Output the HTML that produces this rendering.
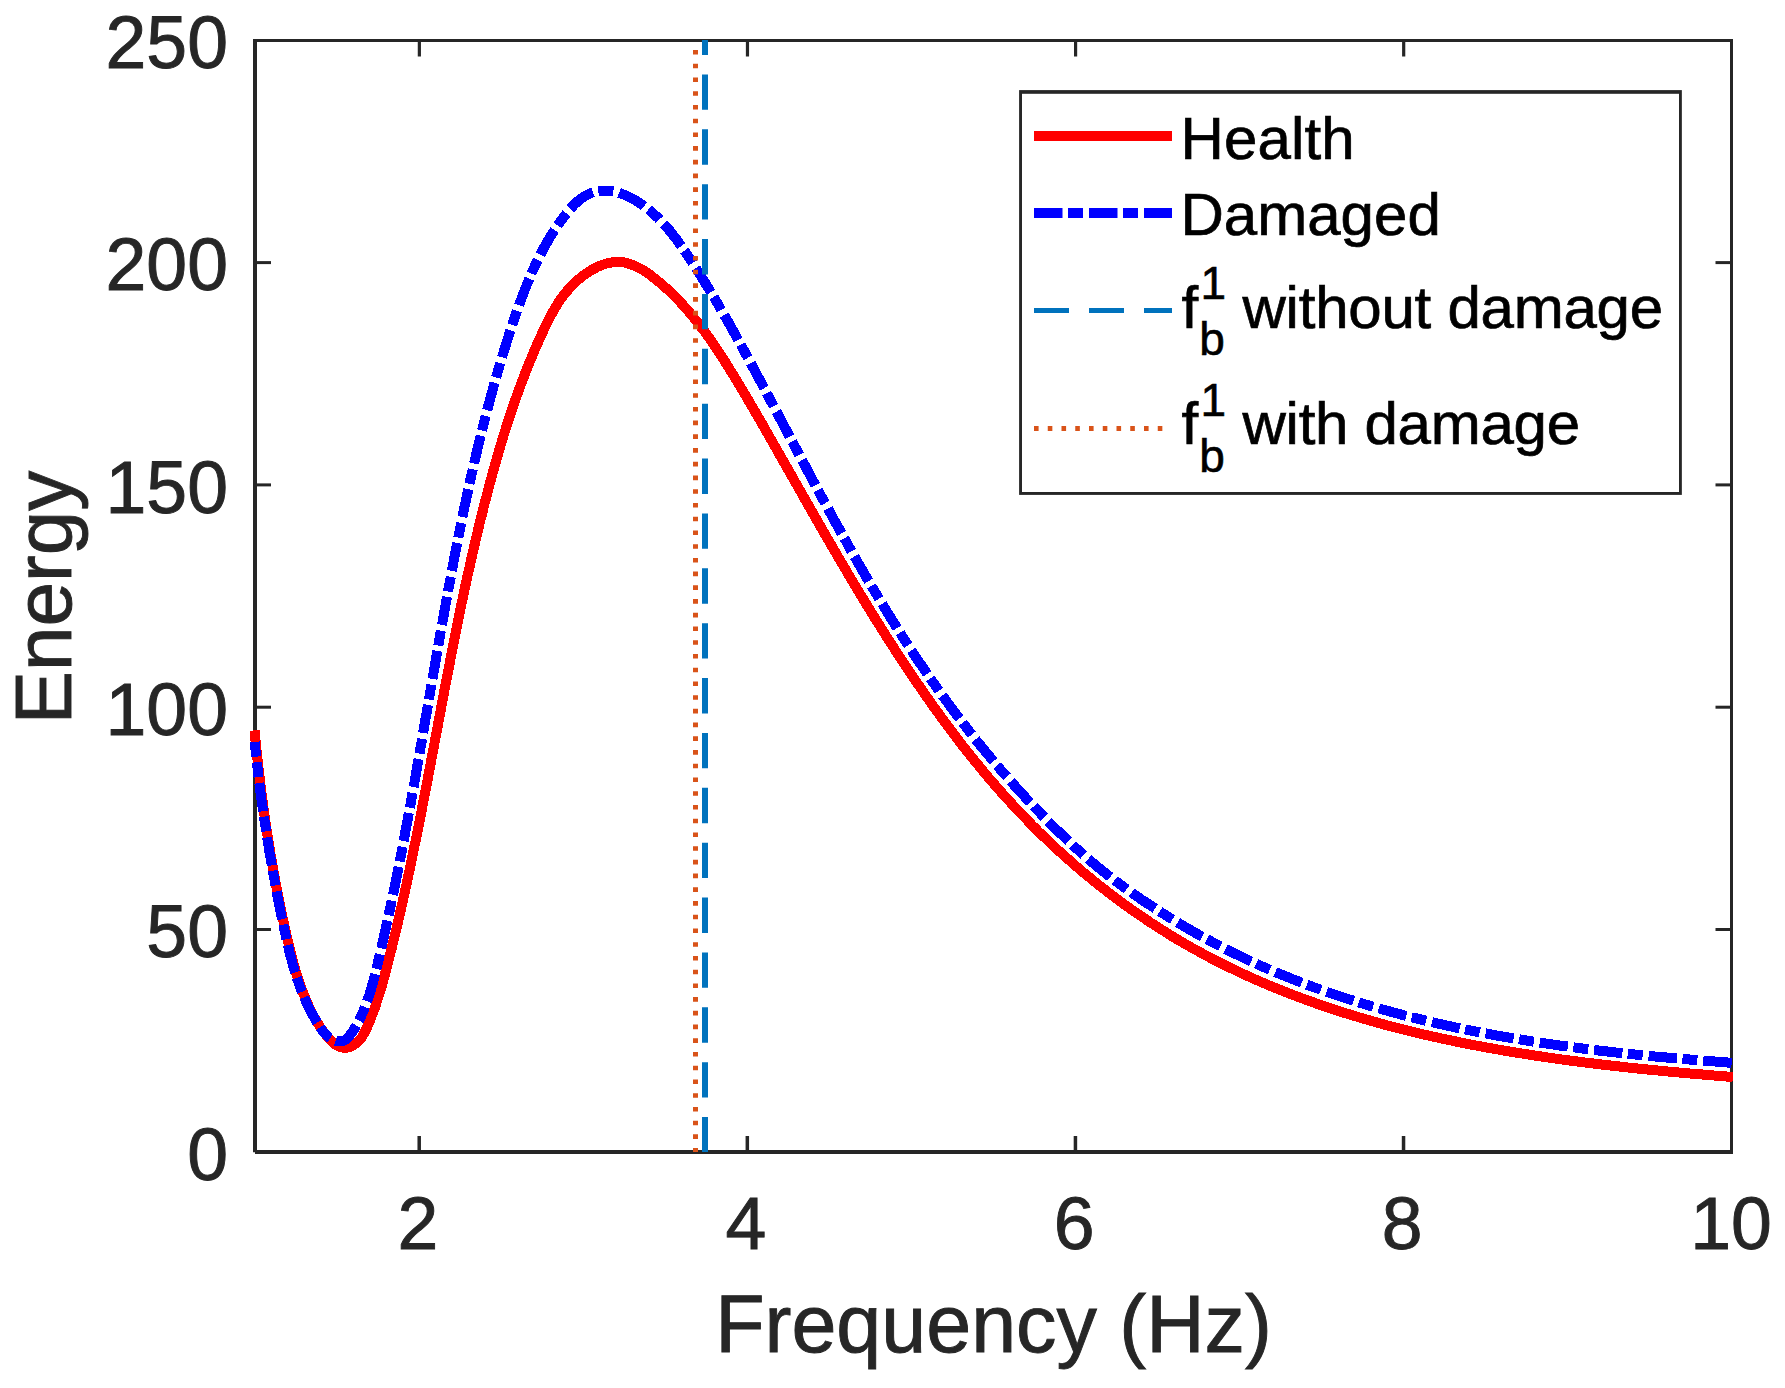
<!DOCTYPE html>
<html><head><meta charset="utf-8"><title>Energy vs Frequency</title>
<style>
html,body{margin:0;padding:0;background:#fff;}
body{width:1785px;height:1388px;overflow:hidden;}
svg{display:block;}
text{font-family:"Liberation Sans",sans-serif;}
.tk{font-size:73.4px;fill:#262626;stroke:#262626;stroke-width:0.9px;}
.lb{font-size:80.8px;fill:#262626;stroke:#262626;stroke-width:0.9px;}
.lg{font-size:60px;fill:#000;stroke:#000;stroke-width:0.7px;}
.ss{font-size:46px;fill:#000;stroke:#000;stroke-width:0.6px;}
</style></head><body>
<svg width="1785" height="1388" viewBox="0 0 1785 1388">
<rect x="0" y="0" width="1785" height="1388" fill="#fff"/>
<g stroke="#262626" fill="none" stroke-linecap="butt">
<path d="M255.0 39.0 V1152.2" stroke-width="4"/>
<path d="M255.0 1152.0 H1733.0" stroke-width="4"/>
<path d="M253.0 40.5 H1733.0" stroke-width="3"/>
<path d="M1731.5 39.0 V1154.0" stroke-width="3"/>
<path d="M419.21 1152.0 V1136.0" stroke-width="3.5"/>
<path d="M419.36 40.5 V56.5" stroke-width="3.2"/>
<path d="M747.32 1152.0 V1136.0" stroke-width="3.5"/>
<path d="M747.47 40.5 V56.5" stroke-width="3.2"/>
<path d="M1075.43 1152.0 V1136.0" stroke-width="3.5"/>
<path d="M1075.58 40.5 V56.5" stroke-width="3.2"/>
<path d="M1403.54 1152.0 V1136.0" stroke-width="3.5"/>
<path d="M1403.69 40.5 V56.5" stroke-width="3.2"/>
<path d="M255.0 929.5 H271.0" stroke-width="3"/>
<path d="M1731.5 929.5 H1715.5" stroke-width="3"/>
<path d="M255.0 707.2 H271.0" stroke-width="3"/>
<path d="M1731.5 707.2 H1715.5" stroke-width="3"/>
<path d="M255.0 484.9 H271.0" stroke-width="3"/>
<path d="M1731.5 484.9 H1715.5" stroke-width="3"/>
<path d="M255.0 262.6 H271.0" stroke-width="3"/>
<path d="M1731.5 262.6 H1715.5" stroke-width="3"/>
</g>
<text class="tk" x="417.9" y="1249.4" text-anchor="middle">2</text>
<text class="tk" x="746.0" y="1249.4" text-anchor="middle">4</text>
<text class="tk" x="1074.1" y="1249.4" text-anchor="middle">6</text>
<text class="tk" x="1402.2" y="1249.4" text-anchor="middle">8</text>
<text class="tk" x="1731.1" y="1249.4" text-anchor="middle">10</text>
<text class="tk" x="228" y="1179.5" text-anchor="end">0</text>
<text class="tk" x="228" y="957.2" text-anchor="end">50</text>
<text class="tk" x="228" y="734.9" text-anchor="end">100</text>
<text class="tk" x="228" y="512.6" text-anchor="end">150</text>
<text class="tk" x="228" y="290.3" text-anchor="end">200</text>
<text class="tk" x="228" y="68.0" text-anchor="end">250</text>
<text class="lb" x="993.5" y="1351.5" text-anchor="middle">Frequency (Hz)</text>
<text class="lb" style="font-size:80px" transform="translate(70.6 597.6) rotate(-90)" text-anchor="middle">Energy</text>
<path d="M254.6 730.4 L255.0 734.9 L255.4 739.3 L255.9 743.8 L256.3 748.2 L256.8 752.6 L257.3 757.1 L257.7 761.5 L258.2 765.9 L258.7 770.4 L259.3 774.8 L259.8 779.2 L260.3 783.6 L260.9 788.0 L261.4 792.4 L262.0 796.9 L262.6 801.3 L263.2 805.7 L263.8 810.1 L264.4 814.5 L265.0 818.9 L265.7 823.3 L266.3 827.7 L267.0 832.1 L267.7 836.4 L268.4 840.8 L269.1 845.2 L269.8 849.6 L270.5 854.0 L271.3 858.4 L272.0 862.8 L272.8 867.1 L273.6 871.5 L274.4 875.9 L275.2 880.3 L276.0 884.7 L276.9 889.1 L277.7 893.4 L278.6 897.8 L279.4 902.2 L280.3 906.6 L281.2 910.9 L282.1 915.3 L283.1 919.7 L284.0 924.1 L285.0 928.5 L285.9 932.8 L286.9 937.2 L288.0 941.6 L289.0 946.0 L290.1 950.3 L291.2 954.7 L292.3 959.0 L293.5 963.3 L294.7 967.6 L295.9 971.9 L297.3 976.1 L298.6 980.3 L300.1 984.5 L301.5 988.7 L303.1 992.8 L304.7 996.9 L306.4 1001.0 L308.2 1005.0 L310.0 1009.0 L312.0 1012.9 L314.0 1016.8 L316.2 1020.6 L318.5 1024.4 L320.9 1028.2 L323.6 1031.8 L326.4 1035.5 L329.5 1039.1 L332.8 1042.4 L336.3 1045.2 L340.1 1047.1 L344.2 1047.9 L348.5 1047.4 L352.7 1045.7 L356.3 1043.3 L359.4 1040.3 L362.1 1036.8 L364.3 1033.0 L366.4 1028.9 L368.2 1024.8 L370.0 1020.6 L371.6 1016.3 L373.2 1012.1 L374.8 1007.9 L376.2 1003.6 L377.6 999.4 L379.0 995.1 L380.3 990.8 L381.6 986.6 L382.8 982.3 L384.0 978.0 L385.1 973.7 L386.3 969.4 L387.4 965.1 L388.5 960.8 L389.6 956.4 L390.7 952.1 L391.8 947.8 L392.8 943.5 L393.9 939.2 L394.9 934.8 L396.0 930.5 L397.0 926.2 L398.0 921.9 L399.0 917.5 L400.0 913.2 L401.0 908.9 L402.0 904.5 L403.0 900.2 L403.9 895.8 L404.9 891.5 L405.9 887.1 L406.8 882.8 L407.7 878.5 L408.7 874.1 L409.6 869.7 L410.5 865.4 L411.4 861.0 L412.3 856.7 L413.2 852.3 L414.1 848.0 L415.0 843.6 L415.9 839.2 L416.8 834.9 L417.7 830.5 L418.5 826.1 L419.4 821.8 L420.3 817.4 L421.1 813.0 L422.0 808.7 L422.8 804.3 L423.7 799.9 L424.5 795.6 L425.4 791.2 L426.2 786.8 L427.1 782.4 L427.9 778.1 L428.7 773.7 L429.6 769.3 L430.4 764.9 L431.2 760.6 L432.0 756.2 L432.9 751.8 L433.7 747.4 L434.5 743.0 L435.3 738.7 L436.2 734.3 L437.0 729.9 L437.8 725.5 L438.6 721.1 L439.5 716.8 L440.3 712.4 L441.1 708.0 L441.9 703.6 L442.8 699.2 L443.6 694.9 L444.4 690.5 L445.3 686.1 L446.1 681.7 L446.9 677.3 L447.8 673.0 L448.6 668.6 L449.5 664.2 L450.3 659.8 L451.2 655.4 L452.0 651.1 L452.9 646.7 L453.7 642.3 L454.6 637.9 L455.5 633.6 L456.4 629.2 L457.2 624.8 L458.1 620.4 L459.0 616.1 L459.9 611.7 L460.8 607.3 L461.7 603.0 L462.7 598.6 L463.6 594.2 L464.5 589.9 L465.4 585.5 L466.4 581.2 L467.3 576.8 L468.3 572.4 L469.3 568.1 L470.2 563.7 L471.2 559.4 L472.2 555.0 L473.2 550.7 L474.2 546.3 L475.2 542.0 L476.2 537.6 L477.3 533.3 L478.3 528.9 L479.3 524.6 L480.4 520.2 L481.5 515.9 L482.6 511.6 L483.6 507.2 L484.7 502.9 L485.9 498.6 L487.0 494.3 L488.1 489.9 L489.3 485.6 L490.4 481.3 L491.6 477.0 L492.8 472.7 L494.0 468.4 L495.2 464.0 L496.4 459.8 L497.6 455.5 L498.9 451.2 L500.1 446.9 L501.4 442.6 L502.7 438.3 L504.0 434.1 L505.4 429.8 L506.7 425.6 L508.1 421.3 L509.5 417.1 L510.9 412.9 L512.3 408.7 L513.7 404.4 L515.2 400.2 L516.7 396.1 L518.2 391.9 L519.7 387.7 L521.2 383.5 L522.8 379.4 L524.4 375.3 L526.0 371.1 L527.6 367.0 L529.3 362.9 L531.0 358.8 L532.7 354.7 L534.4 350.7 L536.1 346.6 L537.9 342.6 L539.7 338.6 L541.5 334.6 L543.4 330.6 L545.2 326.6 L547.2 322.6 L549.1 318.7 L551.2 314.8 L553.3 311.0 L555.6 307.2 L557.9 303.4 L560.3 299.8 L562.9 296.2 L565.7 292.7 L568.6 289.2 L571.7 285.9 L574.9 282.6 L578.4 279.5 L582.1 276.5 L585.9 273.7 L589.8 271.1 L593.8 268.8 L597.9 266.7 L602.1 264.9 L606.3 263.6 L610.6 262.6 L614.8 262.0 L619.0 261.9 L623.1 262.3 L627.2 263.2 L631.2 264.4 L635.2 266.0 L639.1 267.9 L642.9 270.1 L646.7 272.5 L650.4 275.1 L654.0 277.9 L657.6 280.8 L661.1 283.7 L664.5 286.7 L667.9 289.8 L671.2 292.9 L674.4 296.1 L677.5 299.3 L680.6 302.5 L683.7 305.8 L686.6 309.2 L689.6 312.6 L692.4 316.0 L695.2 319.4 L698.0 322.9 L700.7 326.5 L703.4 330.0 L706.1 333.6 L708.7 337.2 L711.2 340.8 L713.7 344.5 L716.2 348.2 L718.7 351.9 L721.1 355.6 L723.5 359.4 L725.9 363.1 L728.3 366.9 L730.6 370.7 L733.0 374.5 L735.3 378.3 L737.6 382.1 L739.9 385.9 L742.2 389.8 L744.4 393.6 L746.7 397.4 L749.0 401.3 L751.2 405.1 L753.4 408.9 L755.7 412.8 L757.9 416.6 L760.2 420.5 L762.4 424.3 L764.6 428.2 L766.8 432.1 L769.0 435.9 L771.2 439.8 L773.4 443.7 L775.6 447.5 L777.8 451.4 L780.0 455.3 L782.2 459.1 L784.4 463.0 L786.6 466.9 L788.8 470.8 L791.0 474.6 L793.2 478.5 L795.4 482.4 L797.6 486.3 L799.8 490.1 L802.0 494.0 L804.2 497.9 L806.4 501.8 L808.6 505.6 L810.8 509.5 L813.0 513.4 L815.2 517.2 L817.4 521.1 L819.6 525.0 L821.9 528.8 L824.1 532.7 L826.3 536.6 L828.6 540.4 L830.8 544.3 L833.0 548.2 L835.3 552.0 L837.5 555.9 L839.8 559.7 L842.0 563.6 L844.3 567.4 L846.6 571.2 L848.8 575.1 L851.1 578.9 L853.4 582.7 L855.7 586.6 L858.0 590.4 L860.3 594.2 L862.6 598.0 L864.9 601.8 L867.2 605.6 L869.6 609.4 L871.9 613.2 L874.2 617.0 L876.6 620.8 L879.0 624.6 L881.3 628.4 L883.7 632.1 L886.1 635.9 L888.5 639.7 L890.9 643.4 L893.3 647.1 L895.7 650.9 L898.1 654.6 L900.6 658.3 L903.0 662.1 L905.5 665.8 L908.0 669.5 L910.4 673.2 L912.9 676.9 L915.4 680.6 L917.9 684.2 L920.5 687.9 L923.0 691.6 L925.5 695.2 L928.1 698.8 L930.7 702.5 L933.2 706.1 L935.8 709.7 L938.4 713.3 L941.0 716.9 L943.7 720.5 L946.3 724.1 L949.0 727.7 L951.6 731.2 L954.3 734.8 L957.0 738.3 L959.7 741.8 L962.4 745.4 L965.2 748.9 L967.9 752.4 L970.7 755.8 L973.5 759.3 L976.3 762.8 L979.1 766.2 L981.9 769.6 L984.8 773.1 L987.6 776.5 L990.5 779.9 L993.4 783.2 L996.3 786.6 L999.3 789.9 L1002.2 793.3 L1005.2 796.6 L1008.2 799.9 L1011.2 803.2 L1014.2 806.5 L1017.2 809.7 L1020.3 813.0 L1023.4 816.2 L1026.5 819.4 L1029.6 822.6 L1032.7 825.8 L1035.9 828.9 L1039.0 832.1 L1042.2 835.2 L1045.4 838.3 L1048.7 841.4 L1051.9 844.5 L1055.2 847.5 L1058.5 850.6 L1061.8 853.6 L1065.1 856.6 L1068.5 859.5 L1071.8 862.5 L1075.2 865.4 L1078.6 868.4 L1082.0 871.3 L1085.4 874.1 L1088.9 877.0 L1092.4 879.8 L1095.8 882.6 L1099.3 885.4 L1102.9 888.2 L1106.4 890.9 L1109.9 893.7 L1113.5 896.4 L1117.1 899.1 L1120.7 901.7 L1124.3 904.4 L1127.9 907.0 L1131.5 909.6 L1135.2 912.1 L1138.9 914.7 L1142.6 917.2 L1146.3 919.7 L1150.0 922.2 L1153.7 924.6 L1157.4 927.0 L1161.2 929.4 L1165.0 931.8 L1168.7 934.1 L1172.5 936.5 L1176.3 938.8 L1180.2 941.0 L1184.0 943.3 L1187.9 945.5 L1191.7 947.7 L1195.6 949.8 L1199.5 952.0 L1203.4 954.1 L1207.3 956.2 L1211.2 958.3 L1215.1 960.3 L1219.1 962.3 L1223.0 964.3 L1227.0 966.3 L1231.0 968.2 L1235.0 970.1 L1239.0 972.0 L1243.0 973.9 L1247.0 975.7 L1251.1 977.6 L1255.1 979.4 L1259.2 981.1 L1263.2 982.9 L1267.3 984.6 L1271.4 986.3 L1275.5 988.0 L1279.6 989.7 L1283.7 991.3 L1287.8 993.0 L1292.0 994.6 L1296.1 996.1 L1300.2 997.7 L1304.4 999.2 L1308.6 1000.8 L1312.8 1002.2 L1316.9 1003.7 L1321.1 1005.2 L1325.3 1006.6 L1329.5 1008.0 L1333.8 1009.4 L1338.0 1010.8 L1342.2 1012.2 L1346.5 1013.5 L1350.7 1014.8 L1355.0 1016.1 L1359.2 1017.4 L1363.5 1018.7 L1367.8 1019.9 L1372.1 1021.1 L1376.3 1022.3 L1380.6 1023.5 L1384.9 1024.7 L1389.2 1025.9 L1393.6 1027.0 L1397.9 1028.1 L1402.2 1029.2 L1406.5 1030.3 L1410.9 1031.4 L1415.2 1032.4 L1419.6 1033.5 L1423.9 1034.5 L1428.3 1035.5 L1432.6 1036.5 L1437.0 1037.5 L1441.4 1038.4 L1445.7 1039.4 L1450.1 1040.3 L1454.5 1041.2 L1458.9 1042.1 L1463.3 1043.0 L1467.7 1043.9 L1472.1 1044.8 L1476.5 1045.6 L1480.9 1046.4 L1485.3 1047.3 L1489.7 1048.1 L1494.1 1048.8 L1498.5 1049.6 L1502.9 1050.4 L1507.4 1051.1 L1511.8 1051.9 L1516.2 1052.6 L1520.6 1053.3 L1525.1 1054.0 L1529.5 1054.7 L1533.9 1055.4 L1538.4 1056.1 L1542.8 1056.7 L1547.2 1057.4 L1551.7 1058.0 L1556.1 1058.7 L1560.5 1059.3 L1565.0 1059.9 L1569.4 1060.5 L1573.9 1061.1 L1578.3 1061.6 L1582.7 1062.2 L1587.2 1062.8 L1591.6 1063.3 L1596.1 1063.8 L1600.5 1064.4 L1604.9 1064.9 L1609.4 1065.4 L1613.8 1065.9 L1618.3 1066.4 L1622.7 1066.9 L1627.1 1067.4 L1631.6 1067.9 L1636.0 1068.3 L1640.4 1068.8 L1644.9 1069.2 L1649.3 1069.7 L1653.7 1070.1 L1658.1 1070.5 L1662.5 1071.0 L1667.0 1071.4 L1671.4 1071.8 L1675.8 1072.2 L1680.2 1072.6 L1684.6 1073.0 L1689.0 1073.4 L1693.4 1073.8 L1697.8 1074.2 L1702.2 1074.5 L1706.6 1074.9 L1711.0 1075.3 L1715.3 1075.6 L1719.7 1076.0 L1724.1 1076.3 L1728.5 1076.7 L1732.8 1077.0" fill="none" stroke="#ff0000" stroke-width="10" stroke-linejoin="round" shape-rendering="crispEdges"/>
<path d="M254.7 742.0 L255.2 746.5 L255.6 751.1 L256.1 755.6 L256.6 760.2 L257.1 764.7 L257.7 769.3 L258.2 773.9 L258.8 778.4 L259.3 783.0 L259.9 787.5 L260.5 792.1 L261.1 796.7 L261.7 801.3 L262.4 805.8 L263.0 810.4 L263.7 815.0 L264.4 819.6 L265.1 824.1 L265.8 828.7 L266.5 833.3 L267.2 837.9 L267.9 842.4 L268.7 847.0 L269.4 851.6 L270.2 856.1 L271.0 860.7 L271.8 865.2 L272.6 869.8 L273.4 874.4 L274.3 878.9 L275.1 883.4 L276.0 888.0 L276.8 892.5 L277.7 897.1 L278.6 901.6 L279.5 906.1 L280.4 910.6 L281.3 915.1 L282.3 919.6 L283.2 924.1 L284.2 928.6 L285.1 933.1 L286.1 937.5 L287.1 942.0 L288.2 946.4 L289.2 950.9 L290.3 955.3 L291.5 959.7 L292.7 964.1 L293.9 968.5 L295.2 972.8 L296.6 977.2 L298.1 981.5 L299.6 985.8 L301.2 990.1 L302.9 994.3 L304.7 998.6 L306.6 1002.8 L308.5 1007.0 L310.6 1011.1 L312.9 1015.2 L315.2 1019.3 L317.6 1023.4 L320.2 1027.4 L323.0 1031.3 L326.1 1034.8 L329.6 1037.8 L333.5 1040.1 L338.0 1041.5 L342.2 1041.3 L345.8 1039.5 L349.0 1036.5 L351.8 1032.7 L354.4 1028.7 L356.8 1024.6 L359.0 1020.4 L361.1 1016.2 L363.0 1012.0 L364.7 1007.7 L366.4 1003.4 L367.9 999.1 L369.4 994.7 L370.8 990.3 L372.0 985.9 L373.3 981.4 L374.4 977.0 L375.5 972.5 L376.6 968.1 L377.7 963.6 L378.7 959.1 L379.8 954.7 L380.8 950.2 L381.9 945.7 L382.9 941.2 L383.9 936.7 L384.9 932.2 L385.9 927.7 L386.9 923.2 L387.9 918.8 L388.8 914.3 L389.8 909.8 L390.7 905.3 L391.7 900.8 L392.6 896.3 L393.6 891.7 L394.5 887.2 L395.4 882.7 L396.3 878.2 L397.2 873.7 L398.1 869.2 L399.0 864.7 L399.9 860.2 L400.8 855.6 L401.7 851.1 L402.6 846.6 L403.4 842.1 L404.3 837.6 L405.1 833.0 L406.0 828.5 L406.8 824.0 L407.7 819.4 L408.5 814.9 L409.3 810.4 L410.2 805.9 L411.0 801.3 L411.8 796.8 L412.6 792.3 L413.5 787.7 L414.3 783.2 L415.1 778.6 L415.9 774.1 L416.7 769.6 L417.5 765.0 L418.3 760.5 L419.1 756.0 L419.9 751.4 L420.7 746.9 L421.5 742.3 L422.3 737.8 L423.1 733.3 L423.8 728.7 L424.6 724.2 L425.4 719.6 L426.2 715.1 L427.0 710.6 L427.8 706.0 L428.6 701.5 L429.4 696.9 L430.1 692.4 L430.9 687.9 L431.7 683.3 L432.5 678.8 L433.3 674.2 L434.1 669.7 L434.9 665.2 L435.7 660.6 L436.4 656.1 L437.2 651.6 L438.0 647.0 L438.8 642.5 L439.6 638.0 L440.4 633.4 L441.2 628.9 L442.1 624.4 L442.9 619.8 L443.7 615.3 L444.5 610.8 L445.3 606.2 L446.1 601.7 L447.0 597.2 L447.8 592.7 L448.6 588.1 L449.5 583.6 L450.3 579.1 L451.2 574.6 L452.0 570.1 L452.9 565.5 L453.7 561.0 L454.6 556.5 L455.5 552.0 L456.4 547.5 L457.2 543.0 L458.1 538.5 L459.0 534.0 L459.9 529.5 L460.8 525.0 L461.8 520.5 L462.7 516.0 L463.6 511.5 L464.5 507.0 L465.5 502.5 L466.4 498.0 L467.4 493.5 L468.4 489.0 L469.4 484.5 L470.3 480.0 L471.3 475.5 L472.4 471.0 L473.4 466.6 L474.4 462.1 L475.4 457.6 L476.5 453.1 L477.5 448.7 L478.6 444.2 L479.7 439.7 L480.8 435.2 L481.9 430.8 L483.0 426.3 L484.1 421.8 L485.3 417.4 L486.4 412.9 L487.6 408.5 L488.8 404.0 L490.0 399.5 L491.2 395.1 L492.4 390.6 L493.6 386.2 L494.9 381.7 L496.1 377.3 L497.4 372.8 L498.7 368.4 L500.0 363.9 L501.3 359.5 L502.7 355.1 L504.0 350.6 L505.4 346.2 L506.8 341.7 L508.2 337.3 L509.6 332.9 L511.1 328.4 L512.5 324.0 L514.0 319.6 L515.5 315.2 L517.0 310.8 L518.6 306.4 L520.2 302.0 L521.8 297.7 L523.4 293.3 L525.1 289.0 L526.8 284.8 L528.5 280.5 L530.3 276.3 L532.1 272.1 L533.9 268.0 L535.8 263.9 L537.8 259.8 L539.7 255.8 L541.8 251.9 L543.8 248.0 L546.0 244.1 L548.2 240.3 L550.4 236.6 L552.8 232.8 L555.2 229.0 L557.9 225.1 L560.7 221.2 L563.7 217.1 L566.9 213.0 L570.2 208.9 L573.8 205.1 L577.5 201.5 L581.3 198.4 L585.2 195.8 L589.2 193.8 L593.3 192.2 L597.5 191.2 L601.7 190.7 L605.9 190.6 L610.2 191.0 L614.5 191.7 L618.8 192.8 L623.0 194.3 L627.3 196.0 L631.4 198.1 L635.5 200.4 L639.6 202.9 L643.5 205.6 L647.3 208.5 L651.0 211.5 L654.6 214.7 L658.0 217.9 L661.3 221.3 L664.5 224.7 L667.6 228.2 L670.5 231.7 L673.4 235.4 L676.2 239.0 L678.9 242.7 L681.6 246.5 L684.2 250.3 L686.8 254.1 L689.3 257.9 L691.8 261.8 L694.3 265.6 L696.8 269.5 L699.3 273.4 L701.7 277.3 L704.1 281.2 L706.5 285.1 L708.9 289.0 L711.3 292.9 L713.6 296.9 L716.0 300.8 L718.3 304.8 L720.6 308.8 L722.9 312.8 L725.2 316.8 L727.5 320.7 L729.7 324.7 L732.0 328.8 L734.2 332.8 L736.4 336.8 L738.6 340.8 L740.8 344.9 L743.1 348.9 L745.2 352.9 L747.4 357.0 L749.6 361.0 L751.8 365.1 L754.0 369.2 L756.1 373.2 L758.3 377.3 L760.5 381.3 L762.6 385.4 L764.8 389.5 L766.9 393.5 L769.1 397.6 L771.2 401.7 L773.4 405.8 L775.5 409.8 L777.7 413.9 L779.8 418.0 L782.0 422.1 L784.1 426.1 L786.3 430.2 L788.4 434.3 L790.6 438.4 L792.7 442.5 L794.9 446.5 L797.0 450.6 L799.2 454.7 L801.3 458.8 L803.5 462.8 L805.7 466.9 L807.8 471.0 L810.0 475.0 L812.1 479.1 L814.3 483.2 L816.5 487.2 L818.7 491.3 L820.8 495.4 L823.0 499.4 L825.2 503.5 L827.4 507.5 L829.6 511.6 L831.8 515.6 L834.0 519.7 L836.2 523.7 L838.5 527.7 L840.7 531.8 L842.9 535.8 L845.2 539.8 L847.4 543.8 L849.6 547.9 L851.9 551.9 L854.2 555.9 L856.4 559.9 L858.7 563.9 L861.0 567.9 L863.3 571.9 L865.6 575.9 L867.9 579.8 L870.3 583.8 L872.6 587.8 L874.9 591.7 L877.3 595.7 L879.7 599.6 L882.0 603.6 L884.4 607.5 L886.8 611.4 L889.2 615.4 L891.6 619.3 L894.1 623.2 L896.5 627.1 L899.0 631.0 L901.4 634.9 L903.9 638.7 L906.4 642.6 L908.9 646.5 L911.4 650.3 L913.9 654.2 L916.5 658.0 L919.0 661.8 L921.6 665.6 L924.2 669.5 L926.8 673.3 L929.4 677.1 L932.0 680.8 L934.7 684.6 L937.3 688.4 L940.0 692.1 L942.7 695.9 L945.4 699.6 L948.1 703.3 L950.8 707.0 L953.6 710.7 L956.3 714.4 L959.1 718.1 L961.9 721.8 L964.7 725.4 L967.5 729.1 L970.3 732.7 L973.2 736.3 L976.0 739.9 L978.9 743.5 L981.8 747.1 L984.7 750.7 L987.7 754.3 L990.6 757.8 L993.5 761.3 L996.5 764.9 L999.5 768.4 L1002.5 771.9 L1005.5 775.3 L1008.6 778.8 L1011.6 782.3 L1014.7 785.7 L1017.7 789.1 L1020.8 792.5 L1024.0 795.9 L1027.1 799.3 L1030.2 802.7 L1033.4 806.0 L1036.6 809.4 L1039.8 812.7 L1043.0 816.0 L1046.2 819.3 L1049.4 822.6 L1052.7 825.8 L1056.0 829.1 L1059.3 832.3 L1062.6 835.5 L1065.9 838.7 L1069.3 841.9 L1072.6 845.0 L1076.0 848.1 L1079.4 851.2 L1082.9 854.3 L1086.3 857.4 L1089.8 860.4 L1093.3 863.3 L1096.8 866.3 L1100.4 869.2 L1104.0 872.0 L1107.6 874.9 L1111.2 877.7 L1114.8 880.5 L1118.5 883.2 L1122.2 886.0 L1125.9 888.6 L1129.7 891.3 L1133.4 894.0 L1137.2 896.6 L1141.0 899.2 L1144.8 901.7 L1148.7 904.3 L1152.5 906.8 L1156.4 909.3 L1160.3 911.8 L1164.2 914.3 L1168.1 916.7 L1172.0 919.1 L1176.0 921.5 L1179.9 923.9 L1183.9 926.2 L1187.9 928.6 L1191.9 930.9 L1195.9 933.2 L1200.0 935.4 L1204.0 937.6 L1208.1 939.8 L1212.2 942.0 L1216.3 944.2 L1220.4 946.3 L1224.5 948.4 L1228.6 950.5 L1232.7 952.6 L1236.9 954.6 L1241.0 956.6 L1245.2 958.6 L1249.4 960.6 L1253.5 962.5 L1257.7 964.4 L1261.9 966.3 L1266.1 968.1 L1270.4 970.0 L1274.6 971.8 L1278.8 973.6 L1283.1 975.3 L1287.3 977.0 L1291.6 978.8 L1295.9 980.4 L1300.2 982.1 L1304.4 983.8 L1308.7 985.4 L1313.1 987.0 L1317.4 988.5 L1321.7 990.1 L1326.0 991.6 L1330.4 993.1 L1334.7 994.6 L1339.1 996.1 L1343.4 997.5 L1347.8 998.9 L1352.2 1000.3 L1356.5 1001.7 L1360.9 1003.1 L1365.3 1004.4 L1369.7 1005.7 L1374.1 1007.0 L1378.5 1008.3 L1383.0 1009.6 L1387.4 1010.8 L1391.8 1012.0 L1396.2 1013.2 L1400.7 1014.4 L1405.1 1015.6 L1409.6 1016.7 L1414.1 1017.8 L1418.5 1018.9 L1423.0 1020.0 L1427.5 1021.1 L1431.9 1022.2 L1436.4 1023.2 L1440.9 1024.2 L1445.4 1025.2 L1449.9 1026.2 L1454.4 1027.2 L1458.9 1028.1 L1463.4 1029.1 L1468.0 1030.0 L1472.5 1030.9 L1477.0 1031.8 L1481.5 1032.7 L1486.1 1033.5 L1490.6 1034.4 L1495.1 1035.2 L1499.7 1036.0 L1504.2 1036.8 L1508.8 1037.6 L1513.3 1038.4 L1517.9 1039.1 L1522.4 1039.9 L1527.0 1040.6 L1531.5 1041.3 L1536.1 1042.0 L1540.7 1042.7 L1545.2 1043.4 L1549.8 1044.1 L1554.4 1044.7 L1559.0 1045.4 L1563.5 1046.0 L1568.1 1046.6 L1572.7 1047.2 L1577.3 1047.8 L1581.9 1048.4 L1586.4 1049.0 L1591.0 1049.6 L1595.6 1050.1 L1600.2 1050.7 L1604.8 1051.2 L1609.4 1051.7 L1613.9 1052.3 L1618.5 1052.8 L1623.1 1053.3 L1627.7 1053.7 L1632.3 1054.2 L1636.9 1054.7 L1641.5 1055.2 L1646.0 1055.6 L1650.6 1056.1 L1655.2 1056.5 L1659.8 1056.9 L1664.4 1057.3 L1669.0 1057.8 L1673.5 1058.2 L1678.1 1058.6 L1682.7 1059.0 L1687.3 1059.3 L1691.9 1059.7 L1696.4 1060.1 L1701.0 1060.5 L1705.6 1060.8 L1710.1 1061.2 L1714.7 1061.5 L1719.3 1061.9 L1723.8 1062.2 L1728.4 1062.6 L1733.0 1062.9" fill="none" stroke="#0000ff" stroke-width="10" stroke-linejoin="round" shape-rendering="crispEdges" stroke-dasharray="28.43 5.49 14.96 5.99" stroke-dashoffset="13.6"/>
<path d="M705 1152 V40" fill="none" stroke="#0072BD" stroke-width="6" stroke-dasharray="35.4 19.48" stroke-dashoffset="0.5"/>
<path d="M695.5 1152 V42" fill="none" stroke="#D95319" stroke-width="5" stroke-dasharray="4.6 9.126" stroke-dashoffset="0.7"/>
<rect x="1019.1" y="90.1" width="662.75" height="404.8" fill="#262626"/>
<rect x="1022" y="93.8" width="657" height="398.2" fill="#fff"/>
<path d="M1034 136 H1172" stroke="#ff0000" stroke-width="10" fill="none"/>
<path d="M1034 213 H1172" stroke="#0000ff" stroke-width="10" fill="none" stroke-dasharray="28.5 5.5 15 6"/>
<path d="M1034 310.5 H1172" stroke="#0072BD" stroke-width="5.2" fill="none" stroke-dasharray="35 20"/>
<path d="M1034 428.5 H1165" stroke="#D95319" stroke-width="5" fill="none" stroke-dasharray="4.6 9.15"/>
<text class="lg" x="1180.4" y="159" textLength="174.3" lengthAdjust="spacing">Health</text>
<text class="lg" x="1180.4" y="235" textLength="260.4" lengthAdjust="spacing">Damaged</text>
<text class="lg" x="1181.5" y="327.8">f</text>
<text class="ss" x="1200.5" y="299.0">1</text>
<text class="ss" x="1199.3" y="355.0">b</text>
<text class="lg" x="1242.5" y="327.8" textLength="420.6" lengthAdjust="spacing">without damage</text>
<text class="lg" x="1181.5" y="443.7">f</text>
<text class="ss" x="1200.5" y="415.7">1</text>
<text class="ss" x="1199.3" y="471.7">b</text>
<text class="lg" x="1242.5" y="443.7" textLength="337.5" lengthAdjust="spacing">with damage</text>
</svg></body></html>
